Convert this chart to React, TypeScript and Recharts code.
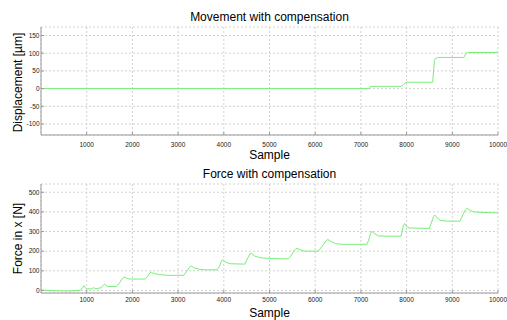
import React from 'react';
import { LineChart, Line, XAxis, YAxis, CartesianGrid } from 'recharts';

const sampleTicks = [1000, 2000, 3000, 4000, 5000, 6000, 7000, 8000, 9000, 10000];
const dispTicks = [-100, -50, 0, 50, 100, 150];
const forceTicks = [0, 100, 200, 300, 400, 500];

const dispSamples = [0, 7190, 7210, 7880, 7920, 7960, 8010, 8570, 8590, 8610, 8630, 8680, 9250, 9270, 9300, 9330, 10000];
const dispValues = [0, 0, 6.5, 6.5, 9, 15, 18, 18, 50, 80, 85, 88, 88, 92, 100, 102, 102];

const forceSamples = [
  0, 300, 600, 850, 900, 940, 970, 1000, 1060, 1100, 1150, 1200, 1250, 1320, 1370, 1390, 1420, 1470, 1650,
  1700, 1780, 1820, 1870, 1950, 2280, 2330, 2380, 2410, 2460, 2600, 2800, 3120, 3180, 3250, 3290, 3340, 3480,
  3600, 3850, 3900, 3950, 3980, 4030, 4140, 4460, 4510, 4570, 4600, 4670, 4800, 5000, 5240, 5410, 5460, 5530,
  5580, 5630, 5690, 5760, 6070, 6150, 6240, 6280, 6340, 6450, 6600, 7130, 7170, 7210, 7240, 7290, 7390, 7880,
  7900, 7930, 7955, 8000, 8060, 8500, 8540, 8590, 8615, 8670, 8740, 8900, 9170, 9230, 9290, 9320, 9380, 9470,
  9700, 10000,
];
const forceValues = [
  2, -1, -3, 1, 10, 24, 15, 7, 9, 7, 14, 9, 11, 14, 28, 32, 26, 20, 20,
  33, 60, 68, 62, 58, 58, 70, 88, 94, 87, 80, 77, 77, 95, 118, 124, 116, 107,
  105, 105, 120, 150, 157, 145, 136, 134, 158, 185, 190, 176, 166, 163, 161, 161, 172, 200,
  213, 212, 205, 200, 200, 225, 254, 259, 250, 238, 235, 235, 255, 290, 301, 290, 277, 276,
  298, 330, 341, 326, 318, 316, 343, 376, 384, 370, 356, 353, 353, 385, 412, 418, 410, 400,
  397, 395,
];

const dispData = dispSamples.map((s, i) => ({ s, v: dispValues[i] }));
const forceData = forceSamples.map((s, i) => ({ s, v: forceValues[i] }));

const BORDER = '#9a9a9a';
const GRID = '#d2d2d2';
const LINE = '#78ee78';
const FONT = '"Liberation Sans", Arial, sans-serif';

type PanelProps = {
  data: { s: number; v: number }[];
  yDomain: [number, number];
  yTicks: number[];
  top: number;
  xHeight: number;
  xMargin: number;
};

function Panel({ data, yDomain, yTicks, top, xHeight, xMargin }: PanelProps) {
  const tickStyle = { fontSize: 6.5, fill: '#222', fontFamily: FONT };
  return (
    <LineChart width={507} height={160} data={data} margin={{ top, right: 9, bottom: 0, left: 0 }}>
      <CartesianGrid xAxisId="b" yAxisId="l" stroke={GRID} strokeDasharray="2 2" />
      <XAxis
        xAxisId="b"
        dataKey="s"
        type="number"
        domain={[0, 10000]}
        ticks={sampleTicks}
        allowDataOverflow
        height={xHeight}
        axisLine={{ stroke: BORDER }}
        tickLine={{ stroke: BORDER }}
        tickSize={-3}
        tickMargin={xMargin}
        tick={tickStyle}
        interval={0}
      />
      <XAxis
        xAxisId="t"
        orientation="top"
        type="number"
        domain={[0, 10000]}
        ticks={sampleTicks}
        allowDataOverflow
        height={0}
        axisLine={{ stroke: BORDER }}
        tickLine={{ stroke: BORDER }}
        tickSize={-3}
        tick={false}
      />
      <YAxis
        yAxisId="l"
        type="number"
        domain={yDomain}
        ticks={yTicks}
        allowDataOverflow
        width={41}
        axisLine={{ stroke: BORDER }}
        tickLine={{ stroke: BORDER }}
        tickSize={-3}
        tickMargin={4.5}
        tick={tickStyle}
        interval={0}
      />
      <YAxis
        yAxisId="r"
        orientation="right"
        type="number"
        domain={yDomain}
        ticks={yTicks}
        allowDataOverflow
        width={0}
        axisLine={{ stroke: BORDER }}
        tickLine={{ stroke: BORDER }}
        tickSize={-3}
        tick={false}
      />
      <Line
        xAxisId="b"
        yAxisId="l"
        type="linear"
        dataKey="v"
        stroke={LINE}
        strokeWidth={1}
        dot={false}
        activeDot={false}
        isAnimationActive={false}
      />
    </LineChart>
  );
}

export default function App() {
  return (
    <div style={{ position: 'absolute', left: 0, top: 0, width: 507, height: 320, background: '#fff' }}>
      <div style={{ position: 'absolute', left: 0, top: 0 }}>
        <Panel data={dispData} yDomain={[-131, 174]} yTicks={dispTicks} top={27} xHeight={25} xMargin={10} />
      </div>
      <div style={{ position: 'absolute', left: 0, top: 160 }}>
        <Panel data={forceData} yDomain={[-13, 542]} yTicks={forceTicks} top={24} xHeight={27} xMargin={7} />
      </div>
      <svg
        width={507}
        height={320}
        style={{ position: 'absolute', left: 0, top: 0, pointerEvents: 'none' }}
        fontFamily={FONT}
      >
        <text x={269.5} y={20.5} fontSize={12} textAnchor="middle" fill="#000">Movement with compensation</text>
        <text x={269.5} y={159.3} fontSize={12} textAnchor="middle" fill="#000">Sample</text>
        <text x={269.5} y={178.3} fontSize={12} textAnchor="middle" fill="#000">Force with compensation</text>
        <text x={269.5} y={316.5} fontSize={12} textAnchor="middle" fill="#000">Sample</text>
        <text x={21.5} y={82.5} fontSize={12} textAnchor="middle" fill="#000" transform="rotate(-90 21.5 82.5)">Displacement [µm]</text>
        <text x={21.5} y={238.5} fontSize={12} textAnchor="middle" fill="#000" transform="rotate(-90 21.5 238.5)">Force in x [N]</text>
      </svg>
    </div>
  );
}
